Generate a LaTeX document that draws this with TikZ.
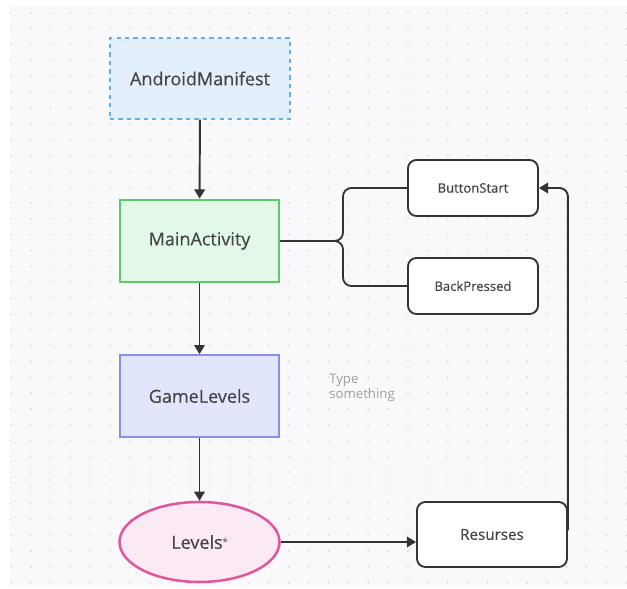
\documentclass[tikz,border=0pt]{standalone}
\usepackage{fontspec}
\setmainfont{Open Sans}
\newfontfamily\boxfont[FakeBold=0.35]{Open Sans}
\usetikzlibrary{arrows.meta,shapes.geometric}

\definecolor{boardbg}{HTML}{F9F9FB}
\definecolor{boarddot}{HTML}{D9D9DE}
\definecolor{inkgray}{HTML}{444444}
\definecolor{wiregray}{HTML}{333333}
\definecolor{manifestfill}{HTML}{E3F0FC}
\definecolor{manifestline}{HTML}{64AEE8}
\definecolor{mainfill}{HTML}{E3F9E7}
\definecolor{mainline}{HTML}{5CC96B}
\definecolor{gamefill}{HTML}{E2E6FC}
\definecolor{gameline}{HTML}{8A8CF2}
\definecolor{levelfill}{HTML}{FBE9F3}
\definecolor{levelline}{HTML}{E0579C}

\tikzset{
	block/.style={draw, minimum width=3.975cm, minimum height=2.05cm, text=inkgray, font=\boxfont\fontsize{12.8}{14}\selectfont},
	smallbox/.style={draw=wiregray, line width=1.3pt, fill=white, rounded corners=6pt, minimum width=3.25cm, minimum height=1.4cm, text=inkgray, font=\boxfont\fontsize{9.3}{11}\selectfont},
	arrow/.style={draw=wiregray, line width=1.4pt, -{Triangle[width=7.5pt,length=6.5pt]}},
	link/.style={draw=wiregray, line width=1.3pt, rounded corners=6pt}
}

\begin{document}
\begin{tikzpicture}[x=0.025cm, y=-0.025cm]
		%%%%% START %%%%%
		\useasboundingbox (0,0) rectangle (627,589);
		\fill[boardbg] (10,6) rectangle (627,587);
		
		% dotted board
		\foreach \i in {0,...,31}
			\foreach \j in {0,...,36}
				\fill[boarddot] ({11+19.85*\i},{13+15.83*\j}) circle (0.7pt);
		
		% left column
		\node[block, minimum width=4.5cm, minimum height=2.025cm, draw=manifestline, fill=manifestfill, dashed, line width=1pt] (manifest) at (200,78.5) {AndroidManifest};
		\node[block, draw=mainline, fill=mainfill, line width=2pt] (main) at (199.5,241) {MainActivity};
		\node[block, draw=gameline, fill=gamefill, line width=1.2pt] (game) at (199.5,396) {GameLevels};
		\node[ellipse, draw=levelline, fill=levelfill, line width=1.8pt, minimum width=4cm, minimum height=2cm, text=inkgray, font=\boxfont\fontsize{12.8}{14}\selectfont] (levels) at (199.5,542) {Levels\raisebox{0.4ex}{\fontsize{6.5}{7}\selectfont\color{black!55}*}};
		
		% right column
		\node[smallbox] (bstart) at (473,188) {ButtonStart};
		\node[smallbox] (bpress) at (473,286) {BackPressed};
		\node[smallbox, minimum width=3.75cm, minimum height=1.625cm, font=\boxfont\fontsize{10.8}{12}\selectfont] (res) at (492,534.5) {Resurses};
		
		\node[anchor=west, align=left, text=black!38, inner sep=0pt, font=\fontsize{9.4}{10.5}\selectfont] (note) at (329,388) {Type\\something};
		
		% connectors
		\draw[arrow] (manifest) -- (main);
		\draw[arrow] (main) -- (game);
		\draw[arrow] (game) -- (levels);
		\draw[arrow] (levels.east) -- (levels.east -| res.west);
		
		\coordinate (fork) at (343,241);
		\draw[link] (main.east) -- (fork) |- (bstart.west);
		\draw[link] (main.east) -- (fork) |- (bpress.west);
		\draw[arrow, rounded corners=6pt] ([yshift=3pt]res.east) |- (bstart.east);
		%%%%% END %%%%%
	\end{tikzpicture}
\end{document}
